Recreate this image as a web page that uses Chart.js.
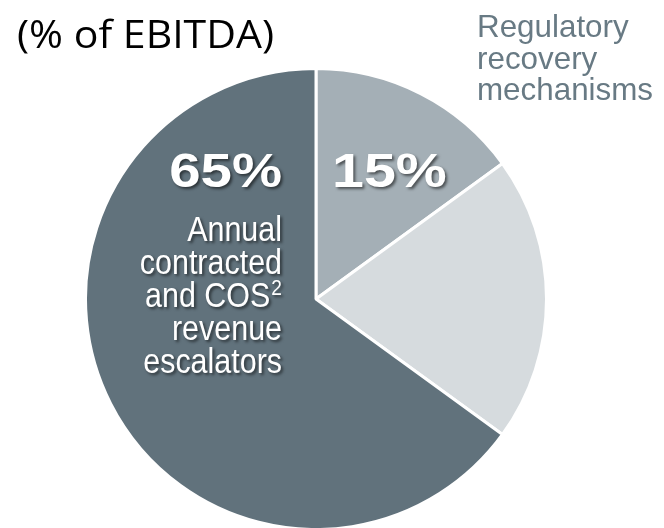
<!DOCTYPE html>
<html>
<head>
<meta charset="utf-8">
<script src="https://cdn.jsdelivr.net/npm/chart.js@4/dist/chart.umd.min.js"></script>
<style>
  html, body { margin: 0; padding: 0; background: #fff; }
  #wrap { width: 664px; height: 528px; position: relative; }
</style>
</head>
<body>
<div id="wrap"><canvas id="myChart"></canvas></div>
<script>
const sliceLabels = ['Regulatory recovery mechanisms', 'Other', 'Annual contracted and COS revenue escalators'];
const shares = [15, 20, 65];
const sliceColors = ['#a4afb6', '#d6dbde', '#61727c'];

const titleText = '(% of EBITDA)';
const regLines = ['Regulatory', 'recovery', 'mechanisms'];
const escLines = ['Annual', 'contracted', 'and COS', 'revenue', 'escalators'];

// fillText with a horizontal stretch (sx < 1 condenses)
function stretchText(ctx, text, x, y, sx, align) {
  ctx.save();
  ctx.translate(x, y);
  ctx.scale(sx, 1);
  ctx.textAlign = align;
  ctx.fillText(text, 0, 0);
  ctx.restore();
}

// text drawn over and around the pie
const pieText = {
  id: 'pieText',
  afterDraw(chart) {
    const ctx = chart.ctx;
    const arcs = chart.getDatasetMeta(0).data;
    const cx = arcs[0].x, cy = arcs[0].y;
    const r = arcs[0].outerRadius;
    ctx.save();
    ctx.textBaseline = 'alphabetic';

    ctx.fillStyle = '#000';
    ctx.font = '38px "Open Sans"';
    stretchText(ctx, titleText, 17, 48, 1.08, 'left');

    ctx.fillStyle = '#687a84';
    ctx.font = '32px "Liberation Sans"';
    regLines.forEach((t, i) => stretchText(ctx, t, cx + 161, 37 + i * 31.5, 0.98, 'left'));

    // white labels with a soft drop shadow
    ctx.shadowColor = 'rgba(0,0,0,0.55)';
    ctx.shadowOffsetX = 2;
    ctx.shadowOffsetY = 2;
    ctx.shadowBlur = 3;
    ctx.fillStyle = '#fff';

    const big = cy - r + 118;
    ctx.font = 'bold 49px "Liberation Sans"';
    stretchText(ctx, shares[2] + '%', cx - 34, big, 1.15, 'right');
    stretchText(ctx, shares[0] + '%', cx + 16, big, 1.17, 'left');

    const right = cx - 34;
    const sx = 0.87;
    escLines.forEach((t, i) => {
      const y = 241 + i * 33;
      if (t === 'and COS') {
        ctx.font = '22px "Liberation Sans"';
        const w = ctx.measureText('2').width * sx;
        stretchText(ctx, '2', right, y - 12, sx, 'right');
        ctx.font = '35px "Liberation Sans"';
        stretchText(ctx, t, right - w - 1, y, sx, 'right');
      } else {
        ctx.font = '35px "Liberation Sans"';
        stretchText(ctx, t, right, y, sx, 'right');
      }
    });
    ctx.restore();
  }
};

new Chart(document.getElementById('myChart'), {
  type: 'pie',
  data: {
    labels: sliceLabels,
    datasets: [{
      data: shares,
      backgroundColor: sliceColors,
      borderColor: '#ffffff',
      borderWidth: 3
    }]
  },
  options: {
    responsive: true,
    maintainAspectRatio: false,
    animation: false,
    radius: 230.5,
    layout: { padding: { left: 87, right: 119, top: 70, bottom: 0 } },
    plugins: {
      legend: { display: false },
      tooltip: { enabled: false }
    }
  },
  plugins: [pieText]
});
</script>
</body>
</html>
